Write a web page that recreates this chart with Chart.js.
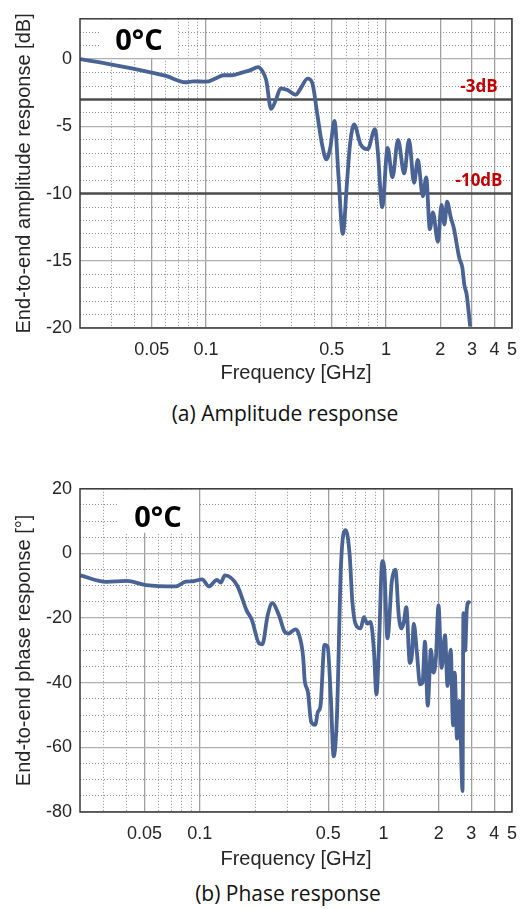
<!DOCTYPE html>
<html lang="en">
<head>
<meta charset="UTF-8">
<title>End-to-end response, 0°C</title>
<script src="https://cdn.jsdelivr.net/npm/chart.js"></script>
<style>
  body { margin: 0; background: #fff; }
  .page { position: relative; width: 528px; height: 909px; overflow: hidden; }
  .box { position: absolute; left: 0; width: 528px; }
  #ampBox { top: 0; height: 392px; }
  #phaseBox { top: 470px; height: 406px; }
  .caption { position: absolute; width: 528px; text-align: center; font-family: "Open Sans", sans-serif; font-size: 21px; color: #111; line-height: 28px; }
  #capA { left: 21px; top: 399px; }
  #capB { left: 24px; top: 879px; }
</style>
</head>
<body>
<div class="page">
  <div class="box" id="ampBox"><canvas id="ampChart"></canvas></div>
  <div class="caption" id="capA">(a) Amplitude response</div>
  <div class="box" id="phaseBox"><canvas id="phaseChart"></canvas></div>
  <div class="caption" id="capB">(b) Phase response</div>
</div>
<script>
// frequency axis (GHz)
const freqTicks = [0.05, 0.1, 0.5, 1, 2, 3, 4, 5];
const freqMinor = [0.03, 0.04, 0.06, 0.07, 0.08, 0.09, 0.2, 0.3, 0.4, 0.6, 0.7, 0.8, 0.9];

// (a) amplitude
const ampFreq = [0.02, 0.03, 0.04, 0.05, 0.06, 0.077, 0.085, 0.1, 0.113, 0.125, 0.139, 0.158, 0.175, 0.195,
  0.207, 0.216, 0.23, 0.245, 0.26, 0.284, 0.315, 0.336, 0.366, 0.39, 0.414, 0.442, 0.466, 0.49, 0.517,
  0.545, 0.575, 0.606, 0.63, 0.665, 0.72, 0.79, 0.868, 0.9, 0.952, 1.02, 1.085, 1.165, 1.26, 1.34, 1.43,
  1.5, 1.6, 1.67, 1.75, 1.82, 1.94, 2.03, 2.11, 2.18, 2.28, 2.38, 2.55, 2.65, 2.72, 2.8, 2.93];
const ampDb = [0, -0.4, -0.72, -1.0, -1.25, -1.72, -1.65, -1.68, -1.44, -1.2, -1.2, -1.0, -0.84, -0.6,
  -0.95, -1.56, -3.7, -3.0, -2.17, -2.3, -2.65, -2.17, -1.45, -1.8, -4.0, -6.4, -7.45, -6.6, -4.6,
  -8.8, -13.0, -9.3, -6.4, -4.85, -6.3, -6.7, -5.2, -6.9, -11.0, -6.6, -8.8, -6.0, -8.5, -6.0, -9.2,
  -7.5, -10.2, -8.8, -12.65, -11.4, -13.6, -10.85, -12.3, -10.6, -11.7, -12.6, -14.8, -15.5, -16.8, -17.5, -19.9];
const ampTicks = [-20, -15, -10, -5, 0];
const ampMinor = [-19, -18, -17, -16, -14, -13, -12, -11, -9, -8, -7, -6, -4, -3, -2, -1, 1, 2];
const refLevels = [-3, -10];
const refNames = ['-3dB', '-10dB'];

// (b) phase
const phaseFreq = [0.0224, 0.031, 0.04, 0.051, 0.074, 0.084, 0.092, 0.103, 0.112, 0.124, 0.13, 0.137, 0.16,
  0.18, 0.192, 0.21, 0.219, 0.234, 0.248, 0.27, 0.29, 0.303, 0.331, 0.345, 0.365, 0.372, 0.388, 0.404, 0.425,
  0.439, 0.454, 0.477, 0.496, 0.517, 0.535, 0.557, 0.587, 0.622, 0.654, 0.676, 0.703, 0.751, 0.781, 0.816,
  0.85, 0.886, 0.915, 0.944, 0.984, 1.01, 1.05, 1.11, 1.16, 1.21, 1.25, 1.29, 1.33, 1.39, 1.43, 1.46, 1.52,
  1.58, 1.63, 1.68, 1.74, 1.81, 1.87, 1.93, 1.99, 2.07, 2.16, 2.23, 2.32, 2.39, 2.44, 2.51, 2.59, 2.69,
  2.72, 2.78, 2.84, 2.9, 2.96];
const phaseDeg = [-6.8, -8.8, -8.5, -9.8, -10.2, -8.7, -8.6, -8.0, -10.2, -8.2, -9.0, -6.8, -10.0,
  -17.7, -20.5, -27.8, -28.1, -19.2, -15.4, -19.2, -24.3, -24.8, -23.5, -24.8, -31.9, -39.0, -43.0, -52.2, -53.0,
  -49.1, -47.1, -28.3, -28.8, -45.1, -62.8, -51.2, -3.4, 7.2, -0.4, -14.6, -21.7, -23.2, -19.7, -21.7,
  -21.2, -29.8, -43.6, -28.8, -2.4, -5.0, -26.3, -8.5, -5.0, -19.2, -23.2, -21.2, -16.6, -33.9, -30.9, -21.7, -30.9,
  -40.5, -40.0, -27.3, -47.1, -29.8, -36.9, -31.9, -16.1, -35.4, -25.3, -41.0, -29.8, -53.2, -36.9, -57.3, -45.6, -73.5,
  -18.5, -30.0, -17.0, -15.1, -15.5];
const phaseTicks = [-80, -60, -40, -20, 0, 20];
const phaseMinor = [-75, -70, -65, -55, -50, -45, -35, -30, -25, -15, -10, -5, 5, 10, 15];

const lineBlue = '#4a6395';
const textGray = '#262626';
const axisFont = { family: 'Liberation Sans, Arial, sans-serif', size: 18 };
const titleFont = { family: 'Liberation Sans, Arial, sans-serif', size: 20 };

function toPoints(xs, ys) {
  return xs.map((x, i) => ({ x: x, y: ys[i] }));
}

// draws the frame, the temperature tag and the dB labels
function notesPlugin(tagBox, levels, names) {
  return {
    id: 'notes',
    afterDraw(chart) {
      const ctx = chart.ctx;
      const a = chart.chartArea;
      ctx.save();
      ctx.fillStyle = '#fff';
      ctx.fillRect(a.left + tagBox[0], a.top + 1, tagBox[1], tagBox[2]);
      ctx.fillStyle = '#000';
      ctx.font = 'bold 29px "Open Sans", sans-serif';
      ctx.textAlign = 'center';
      ctx.textBaseline = 'middle';
      ctx.fillText('0°C', a.left + tagBox[0] + tagBox[1] / 2, a.top + tagBox[3]);
      if (levels) {
        ctx.fillStyle = '#c00000';
        ctx.font = 'bold 17px "Open Sans", sans-serif';
        levels.forEach((lv, i) => {
          const y = chart.scales.y.getPixelForValue(lv);
          ctx.fillText(names[i], a.right - 33, y - 12);
        });
      }
      ctx.strokeStyle = '#3a3a3a';
      ctx.lineWidth = 1.5;
      ctx.strokeRect(a.left, a.top, a.right - a.left, a.bottom - a.top);
      ctx.restore();
    }
  };
}

function buildChart(id, o) {
  const datasets = [{
    data: toPoints(o.freq, o.vals),
    borderColor: lineBlue,
    borderWidth: 3.8,
    pointRadius: 0,
    cubicInterpolationMode: 'monotone'
  }];
  (o.levels || []).forEach(lv => {
    datasets.push({
      data: [{ x: o.xMin, y: lv }, { x: 5, y: lv }],
      borderColor: '#4d4d4d',
      borderWidth: 2.5,
      pointRadius: 0
    });
  });

  return new Chart(document.getElementById(id), {
    type: 'line',
    data: { datasets: datasets },
    options: {
      responsive: true,
      maintainAspectRatio: false,
      animation: false,
      layout: { padding: { top: o.padTop, right: 11.5, left: 0, bottom: 0 } },
      plugins: { legend: { display: false }, tooltip: { enabled: false } },
      scales: {
        x: {
          type: 'logarithmic', position: 'bottom', min: o.xMin, max: 5,
          afterBuildTicks: s => { s.ticks = freqTicks.map(v => ({ value: v })); },
          afterFit: s => { s.height = 64; },
          ticks: { color: textGray, font: axisFont, padding: 11, maxRotation: 0, autoSkip: false,
            callback: v => String(v) },
          grid: { color: '#a0a0a0', lineWidth: 1.3, drawTicks: false },
          border: { display: false },
          title: { display: true, text: 'Frequency [GHz]', color: textGray, font: titleFont,
            padding: { top: 0, bottom: o.xTitlePad } }
        },
        xMinor: {
          type: 'logarithmic', position: 'bottom', min: o.xMin, max: 5,
          afterBuildTicks: s => { s.ticks = freqMinor.map(v => ({ value: v })); },
          afterFit: s => { s.height = 0; },
          ticks: { display: false },
          grid: { color: '#8c8c8c', lineWidth: 1, drawTicks: false },
          border: { display: false, dash: [1, 2] }
        },
        y: {
          type: 'linear', position: 'left', min: o.yMin, max: o.yMax,
          afterBuildTicks: s => { s.ticks = o.yTicks.map(v => ({ value: v })); },
          afterFit: s => { s.width = 80; },
          ticks: { color: textGray, font: axisFont, padding: 8 },
          grid: { color: '#b0b0b0', lineWidth: 1.3, drawTicks: false },
          border: { display: false },
          title: { display: true, text: o.yTitle, color: textGray, font: titleFont,
            padding: { top: 12, bottom: 0 } }
        },
        yMinor: {
          type: 'linear', position: 'left', min: o.yMin, max: o.yMax,
          afterBuildTicks: s => { s.ticks = o.yMinor.map(v => ({ value: v })); },
          afterFit: s => { s.width = 0; },
          ticks: { display: false },
          grid: { color: '#8c8c8c', lineWidth: 1, drawTicks: false },
          border: { display: false, dash: [1, 2] }
        }
      }
    },
    plugins: [notesPlugin(o.tagBox, o.levels, o.names)]
  });
}

buildChart('ampChart', {
  freq: ampFreq, vals: ampDb, xMin: 0.02, yMin: -20, yMax: 3,
  yTicks: ampTicks, yMinor: ampMinor, padTop: 9, xTitlePad: 7,
  yTitle: 'End-to-end amplitude response [dB]',
  tagBox: [20, 78, 38, 23], levels: refLevels, names: refNames
});

buildChart('phaseChart', {
  freq: phaseFreq, vals: phaseDeg, xMin: 0.0223, yMin: -80, yMax: 20,
  yTicks: phaseTicks, yMinor: phaseMinor, padTop: 11, xTitlePad: 5,
  yTitle: 'End-to-end phase response [°]',
  tagBox: [38, 80, 43, 30]
});
</script>
</body>
</html>
